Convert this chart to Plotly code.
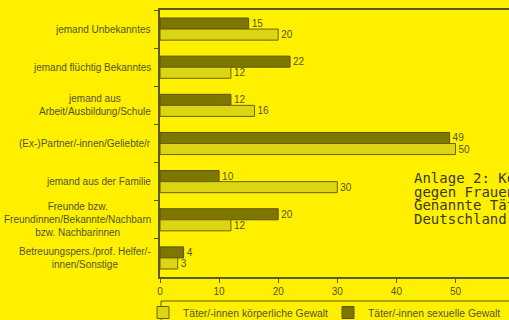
import plotly.graph_objects as go

categories = [
    "jemand Unbekanntes",
    "jemand flüchtig Bekanntes",
    "jemand aus<br>Arbeit/Ausbildung/Schule",
    "(Ex-)Partner/-innen/Geliebte/r",
    "jemand aus der Familie",
    "Freunde bzw.<br>Freundinnen/Bekannte/Nachbarn<br>bzw. Nachbarinnen",
    "Betreuungspers./prof. Helfer/-<br>innen/Sonstige",
]
sexuelle_gewalt = [15, 22, 12, 49, 10, 20, 4]
koerperliche_gewalt = [20, 12, 16, 50, 30, 12, 3]
x_ticks = [0, 10, 20, 30, 40, 50, 60]
overlay_lines = [
    "Anlage 2: Körperliche und sexuelle Gewalt",
    "gegen Frauen in Deutschland",
    "Genannte Täter/-innen",
    "Deutschland",
]

BG = "#FFF000"
TXT = "#55552a"
FONT = "Liberation Sans, Arial, sans-serif"
PLOT_W = 349
PLOT_H = 267

fig = go.Figure()
fig.add_trace(go.Bar(
    y=categories, x=sexuelle_gewalt, orientation="h",
    name="Täter/-innen sexuelle Gewalt",
    marker=dict(color="#7d7600", line=dict(color="#5a5400", width=1)),
    text=sexuelle_gewalt, textposition="outside", cliponaxis=False,
    textfont=dict(size=10, color=TXT, family=FONT),
    legend="legend2",
))
fig.add_trace(go.Bar(
    y=categories, x=koerperliche_gewalt, orientation="h",
    name="Täter/-innen körperliche Gewalt",
    marker=dict(color="#dcd514", line=dict(color="#6a6400", width=1)),
    text=koerperliche_gewalt, textposition="outside", cliponaxis=False,
    textfont=dict(size=10, color=TXT, family=FONT),
    legend="legend",
))

# category labels (centered multi-line, right-aligned block)
for cat in categories:
    fig.add_annotation(
        xref="paper", yref="y", x=-7 / PLOT_W, y=cat, xanchor="right", yanchor="middle",
        align="center", text=cat, showarrow=False,
        font=dict(size=10, color=TXT, family=FONT),
    )

for i, line in enumerate(overlay_lines):
    fig.add_annotation(
        xref="paper", yref="paper", x=(412 - 160) / PLOT_W, y=(277 - (178 + i * 13.5)) / PLOT_H,
        xanchor="left", yanchor="middle", text=line, showarrow=False,
        font=dict(family="DejaVu Sans Mono, monospace", size=14, color="#3a3a20"),
    )

fig.add_shape(type="rect", xref="paper", yref="paper",
              x0=0.003, x1=1.2, y0=(277 - 301) / PLOT_H, y1=-0.25,
              line=dict(color="#5a5a20", width=1))

legend_common = dict(orientation="h", xref="container", yref="paper",
                     y=(277 - 298) / PLOT_H,
                     xanchor="left", yanchor="top",
                     font=dict(size=10.4, color=TXT, family=FONT),
                     bgcolor="rgba(0,0,0,0)")

fig.update_layout(
    width=509, height=320,
    margin=dict(l=160, r=0, t=10, b=43, autoexpand=False),
    paper_bgcolor=BG, plot_bgcolor=BG,
    barmode="group", bargap=0.42, bargroupgap=0.0,
    showlegend=True,
    legend=dict(x=143 / 509, **legend_common),
    legend2=dict(x=328 / 509, **legend_common),
    font=dict(family=FONT, color=TXT, size=10),
)
fig.update_xaxes(range=[0, 59.05], tickvals=x_ticks, ticks="outside", ticklen=4,
                 tickcolor="#5a5a20", showline=True, linecolor="#5a5a20", linewidth=1.5,
                 mirror=True, showgrid=False, zeroline=False,
                 tickfont=dict(size=10, color=TXT, family=FONT))
fig.update_yaxes(autorange="reversed", ticks="outside", ticklen=4, tickson="boundaries",
                 tickcolor="#5a5a20", showline=True, linecolor="#5a5a20", linewidth=1.5,
                 showgrid=False, showticklabels=False)

fig.write_html("out.html")
